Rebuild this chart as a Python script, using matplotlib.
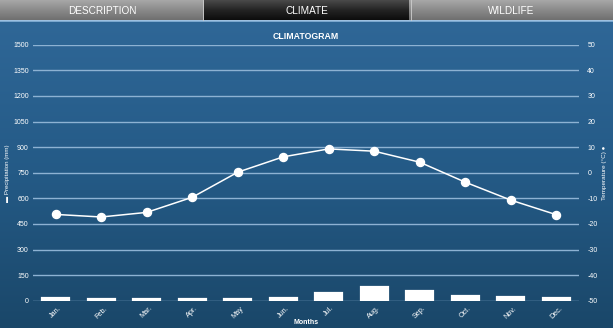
import numpy as np
import matplotlib
matplotlib.use("Agg")
import matplotlib.pyplot as plt
from matplotlib.colors import LinearSegmentedColormap

months = ["Jan.", "Feb.", "Mar.", "Apr.", "May", "Jun.", "Jul.", "Aug.", "Sep.", "Oct.", "Nov.", "Dec."]
precip = [16, 12, 11, 11, 9, 18, 45, 78, 57, 25, 20, 15]
temp = [-16.3, -17.3, -15.5, -9.6, 0.2, 6.2, 9.3, 8.4, 4.1, -3.7, -10.7, -16.4]
precip_ticks = list(range(0, 1501, 150))
temp_ticks = list(range(-50, 51, 10))
tabs = ["DESCRIPTION", "CLIMATE", "WILDLIFE"]

plt.rcParams['font.family'] = ['Liberation Sans', 'DejaVu Sans']

W, H = 613, 328
fig = plt.figure(figsize=(W / 100, H / 100), dpi=100)

# background / decoration axes in pixel coordinates
bg = fig.add_axes([0, 0, 1, 1])
bg.set_xlim(0, W)
bg.set_ylim(H, 0)
bg.axis('off')

grad = np.linspace(0, 1, 256).reshape(-1, 1)
blue = LinearSegmentedColormap.from_list("b", ["#2f6797", "#245a86", "#1a4769"])
bg.imshow(grad, cmap=blue, extent=[0, W, H, 21], aspect='auto', zorder=0)
gray = LinearSegmentedColormap.from_list("g", ["#a8a8a8", "#8a8a8a", "#6f6f6f"])
dark = LinearSegmentedColormap.from_list("d", ["#4a4a4a", "#242424", "#0c0c0c"])
tw = W / 3
for i, name in enumerate(tabs):
    cm = dark if i == 1 else gray
    bg.imshow(grad, cmap=cm, extent=[i * tw, (i + 1) * tw, 20, 0], aspect='auto', zorder=1)
    bg.text((i + 0.5) * tw, 10.5, name, color="white", fontsize=7.2, ha="center", va="center", zorder=3)
bg.plot([0, W], [20.5, 20.5], color="#8ab4da", lw=1.2, zorder=2)
bg.plot([202.5, 202.5], [0, 20], color="#cfcfcf", lw=0.6, zorder=2)
bg.plot([410.5, 410.5], [0, 20], color="#cfcfcf", lw=0.6, zorder=2)
bg.set_xlim(0, W)
bg.set_ylim(H, 0)

left, right = 33 / W, 579 / W
bottom, top = (H - 300.7) / H, (H - 44.7) / H
ax = fig.add_axes([left, bottom, right - left, top - bottom])
ax.patch.set_alpha(0)
x = np.arange(len(months))
ax.bar(x, precip, width=0.6, color="white", edgecolor="white", linewidth=1.6, zorder=3)
ax.set_xlim(-0.5, len(months) - 0.5)
ax.set_ylim(0, 1500)
ax.set_yticks(precip_ticks)
ax.set_yticklabels([str(t) for t in precip_ticks], color="white", fontsize=5)
ax.grid(axis='y', color="#8db2d3", lw=1.0, zorder=1)
ax.set_xticks(x)
ax.set_xticklabels(months, rotation=45, color="white", fontsize=5.2, ha="center")
ax.tick_params(axis='both', length=0, pad=3)
ax.tick_params(axis='x', pad=3)
for s in ax.spines.values():
    s.set_visible(False)
ax.set_xlabel("Months", color="white", fontsize=5, fontweight="bold", labelpad=-1)
ax.set_ylabel("\u25ac Precipitation (mm)", color="white", fontsize=4.4, va="center")
ax.yaxis.set_label_coords(-0.046, 0.5)
ax.set_title("CLIMATOGRAM", color="white", fontsize=6.3, fontweight="bold", pad=4)

ax2 = ax.twinx()
ax2.patch.set_alpha(0)
ax2.plot(x, temp, color="white", lw=1.1, marker="o", markersize=5.8, zorder=4)
ax2.set_ylim(-50, 50)
ax2.set_yticks(temp_ticks)
ax2.set_yticklabels([str(t) for t in temp_ticks], color="white", fontsize=5)
ax2.tick_params(axis='y', length=0, pad=6)
for s in ax2.spines.values():
    s.set_visible(False)
ax2.set_ylabel("Temperature (\u00b0C) \u25cf", color="white", fontsize=4.6, rotation=90, va="center")
ax2.yaxis.set_label_coords(1.046, 0.5)

fig.savefig("out.png", dpi=100)
